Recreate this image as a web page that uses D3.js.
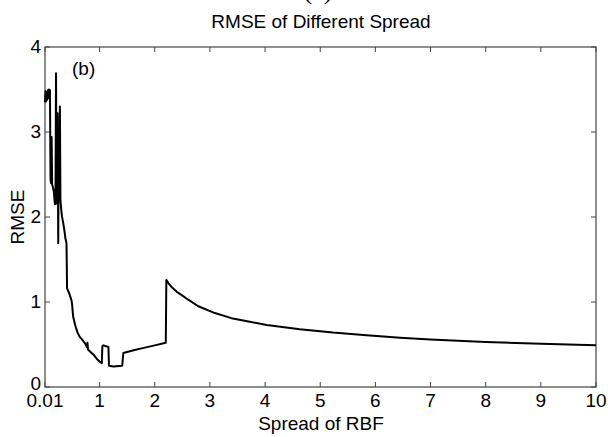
<!DOCTYPE html>
<html>
<head>
<meta charset="utf-8">
<script src="https://cdn.jsdelivr.net/npm/d3@7"></script>
<style>
  body { margin: 0; background: #fff; }
  text { font-family: "Liberation Sans", Arial, sans-serif; fill: #000; }
</style>
</head>
<body>
<svg id="container"></svg>
<script>
// spread values (x) and rmse
const spread = [
  0.01, 0.02, 0.03, 0.04, 0.05, 0.06, 0.07, 0.08, 0.09, 0.10,
  0.11, 0.12, 0.13, 0.14, 0.15, 0.16, 0.17, 0.18, 0.19, 0.20,
  0.21, 0.22, 0.23, 0.24, 0.25, 0.26, 0.27, 0.28, 0.29, 0.30,
  0.31, 0.32, 0.34, 0.36, 0.38, 0.40, 0.41, 0.45, 0.48, 0.49,
  0.50, 0.52, 0.56, 0.60, 0.64, 0.68, 0.73, 0.77, 0.78, 0.79,
  0.84, 0.89, 0.95, 1.00, 1.04, 1.05, 1.07, 1.16, 1.17, 1.25,
  1.41, 1.43, 1.60, 1.80, 2.00, 2.20, 2.21, 2.25, 2.30, 2.40,
  2.49, 2.60, 2.79, 3.09, 3.39, 3.70, 4.03, 4.63, 5.23, 5.84,
  6.45, 7.00, 8.00, 9.00, 10.00
];
const rmse = [
  3.35, 3.48, 3.36, 3.47, 3.38, 3.49, 3.40, 3.50, 3.45, 3.49,
  2.44, 2.40, 2.94, 2.38, 2.36, 2.33, 2.30, 2.22, 2.15, 2.18,
  3.69, 2.16, 2.90, 3.22, 1.69, 2.86, 2.20, 3.30, 2.20, 2.12,
  2.05, 2.00, 1.93, 1.85, 1.75, 1.69, 1.16, 1.10, 1.04, 1.02,
  0.98, 0.83, 0.72, 0.64, 0.59, 0.56, 0.52, 0.47, 0.52, 0.44,
  0.41, 0.38, 0.33, 0.30, 0.28, 0.48, 0.49, 0.47, 0.25, 0.24,
  0.25, 0.40, 0.43, 0.46, 0.49, 0.52, 1.26, 1.22, 1.18, 1.12,
  1.08, 1.03, 0.95, 0.87, 0.81, 0.77, 0.73, 0.68, 0.64, 0.61,
  0.58, 0.56, 0.53, 0.51, 0.49
];

const xTicks = [0.01, 1, 2, 3, 4, 5, 6, 7, 8, 9, 10];
const xTickLabels = ['0.01', '1', '2', '3', '4', '5', '6', '7', '8', '9', '10'];
const yTicks = [0, 1, 2, 3, 4];

const width = 608, height = 437;
const m = { left: 45, right: 596, top: 47, bottom: 387 };

const svg = d3.select('#container')
  .attr('width', width)
  .attr('height', height);

const x = d3.scaleLinear().domain([0.01, 10]).range([m.left, m.right]);
const y = d3.scaleLinear().domain([0, 4]).range([m.bottom, m.top]);

// figure label cut off by the top edge, only the parentheses show
svg.append('text')
  .attr('x', 318).attr('y', -1)
  .attr('text-anchor', 'middle')
  .style('font-family', '"Liberation Serif", serif')
  .style('font-size', '26px')
  .text('(a)');

svg.append('text')
  .attr('x', 321).attr('y', 28)
  .attr('text-anchor', 'middle')
  .style('font-size', '19px')
  .text('RMSE of Different Spread');

// frame
svg.append('rect')
  .attr('x', m.left).attr('y', m.top)
  .attr('width', m.right - m.left).attr('height', m.bottom - m.top)
  .attr('fill', 'none').attr('stroke', '#444').attr('stroke-width', 1.2);

const tickLen = 5;
const frame = svg.append('g').attr('stroke', '#444').attr('stroke-width', 1);

frame.selectAll('line.xb').data(xTicks).join('line')
  .attr('class', 'xb')
  .attr('x1', d => x(d)).attr('x2', d => x(d))
  .attr('y1', m.bottom).attr('y2', m.bottom - tickLen);
frame.selectAll('line.xt').data(xTicks).join('line')
  .attr('class', 'xt')
  .attr('x1', d => x(d)).attr('x2', d => x(d))
  .attr('y1', m.top).attr('y2', m.top + tickLen);
frame.selectAll('line.yl').data(yTicks).join('line')
  .attr('class', 'yl')
  .attr('x1', m.left).attr('x2', m.left + tickLen)
  .attr('y1', d => y(d)).attr('y2', d => y(d));
frame.selectAll('line.yr').data(yTicks).join('line')
  .attr('class', 'yr')
  .attr('x1', m.right).attr('x2', m.right - tickLen)
  .attr('y1', d => y(d)).attr('y2', d => y(d));

svg.selectAll('text.xl').data(xTicks).join('text')
  .attr('class', 'xl')
  .attr('x', d => x(d)).attr('y', m.bottom + 20)
  .attr('text-anchor', 'middle')
  .style('font-size', '19px')
  .text((d, i) => xTickLabels[i]);

svg.selectAll('text.yt').data(yTicks).join('text')
  .attr('class', 'yt')
  .attr('x', m.left - 4).attr('y', d => y(d) + (d === 0 ? 3 : 6))
  .attr('text-anchor', 'end')
  .style('font-size', '19px')
  .text(d => d);

svg.append('text')
  .attr('x', 321).attr('y', 430)
  .attr('text-anchor', 'middle')
  .style('font-size', '19px')
  .text('Spread of RBF');

svg.append('text')
  .attr('transform', 'translate(24,' + ((m.top + m.bottom) / 2) + ') rotate(-90)')
  .attr('text-anchor', 'middle')
  .style('font-size', '19px')
  .text('RMSE');

svg.append('text')
  .attr('x', 72).attr('y', 75)
  .style('font-size', '19px')
  .text('(b)');

const line = d3.line()
  .x(d => x(d[0]))
  .y(d => y(d[1]));

svg.append('path')
  .datum(d3.zip(spread, rmse))
  .attr('fill', 'none')
  .attr('stroke', '#000')
  .attr('stroke-width', 2)
  .attr('stroke-linejoin', 'round')
  .attr('d', line);
</script>
</body>
</html>
